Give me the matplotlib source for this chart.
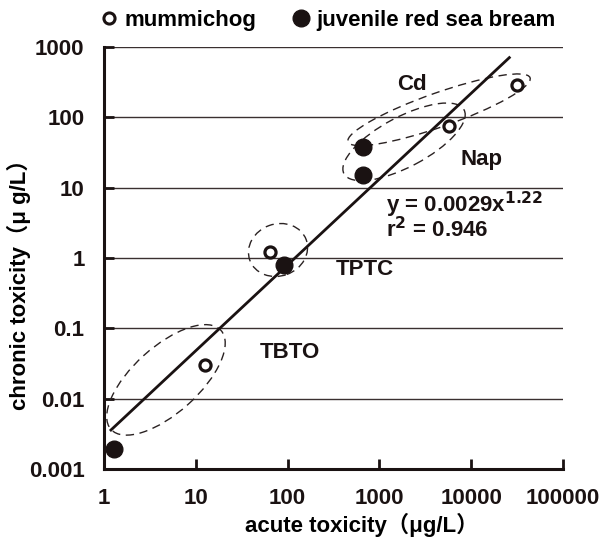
import numpy as np
import matplotlib
matplotlib.use('Agg')
import matplotlib.pyplot as plt
from matplotlib.patches import Ellipse
from matplotlib.lines import Line2D
import matplotlib.transforms as mtransforms

plt.rcParams['font.family'] = ['Liberation Sans', 'Noto Sans CJK JP', 'DejaVu Sans']

# acute / chronic toxicity (ug/L)
mummichog_acute = [12.6, 64, 5700, 31600]
mummichog_chronic = [0.030, 1.22, 76, 290]
bream_acute = [1.3, 91, 665, 665]
bream_chronic = [0.0019, 0.80, 38, 15]

# regression y = a * x^b
fit_a = 0.0029
fit_b = 1.22
fit_r2 = 0.946
fit_xrange = [1.19, 26000]

x_ticks = [1, 10, 100, 1000, 10000, 100000]
x_ticklabels = ['1', '10', '100', '1000', '10000', '100000']
y_ticks = [0.001, 0.01, 0.1, 1, 10, 100, 1000]
y_ticklabels = ['0.001', '0.01', '0.1', '1', '10', '100', '1000']

# group labels: text, x, y
group_labels = [('Cd', 2265, 290), ('Nap', 13100, 24.8),
                ('TPTC', 697, 0.68), ('TBTO', 106, 0.046)]

# dashed group outlines: center (data), semi-axes in inches, angle
group_ellipses = [(4.73, 0.0185, 0.74, 0.33, 42),
                  (78.6, 1.30, 0.30, 0.26, 20),
                  (4460, 128, 0.965, 0.17, 19.4),
                  (1854, 44.8, 0.68, 0.25, 28)]

fig = plt.figure(figsize=(6.14, 5.45), dpi=100)
ax = fig.add_axes([0.1694, 0.1394, 0.7476, 0.7744])
ax.set_xscale('log')
ax.set_yscale('log')
ax.set_xlim(1, 100000)
ax.set_ylim(0.001, 1000)

for yv in y_ticks:
    ax.axhline(yv, color='#3a3030', lw=1.0, zorder=1)

xf = np.logspace(np.log10(fit_xrange[0]), np.log10(fit_xrange[1]), 50)
ax.plot(xf, fit_a * xf ** fit_b, color='#1a1212', lw=2.0, zorder=3)

for cx, cy, a, b, ang in group_ellipses:
    trans = fig.dpi_scale_trans + mtransforms.ScaledTranslation(cx, cy, ax.transData)
    e = Ellipse((0, 0), 2 * a, 2 * b, angle=ang, fill=False, ec='#2a2222',
                lw=1.0, ls=(0, (6, 4)), transform=trans, zorder=2)
    ax.add_patch(e)

ax.plot(mummichog_acute, mummichog_chronic, 'o', ms=8, mfc='white',
        mec='#1a1212', mew=2.3, zorder=4, clip_on=False)
ax.plot(bream_acute, bream_chronic, 'o', ms=12, mfc='#1a1212',
        mec='#1a1212', zorder=4, clip_on=False)

tfont = dict(fontsize=16, fontweight='bold', color='#1a1212')
for txt, tx, ty in group_labels:
    ax.text(tx, ty, txt, ha='center', va='center', **tfont)
ax.text(1180, 5.7, 'y = %.4fx$^{\\mathbf{%.2f}}$' % (fit_a, fit_b), ha='left', va='center', **tfont)
ax.text(1180, 2.5, 'r$^{\\mathbf{2}}$ = %.3f' % fit_r2, ha='left', va='center', **tfont)

ax.set_xticks(x_ticks)
ax.set_xticklabels(x_ticklabels)
ax.set_yticks(y_ticks)
ax.set_yticklabels(y_ticklabels)
ax.minorticks_off()
ax.tick_params(direction='in', length=7, width=2, colors='#1a1212',
               labelsize=16, pad=14)
for lab in ax.get_xticklabels() + ax.get_yticklabels():
    lab.set_fontweight('bold')

for s in ['top', 'right']:
    ax.spines[s].set_visible(False)
for s in ['left', 'bottom']:
    ax.spines[s].set_linewidth(2.2)
    ax.spines[s].set_color('#1a1212')

ax.set_xlabel('acute toxicity（μg/L）', fontsize=16, fontweight='bold',
              family=['Liberation Sans', 'Noto Sans CJK JP'])
ax.set_ylabel('chronic toxicity（μ g/L）', fontsize=16, fontweight='bold',
              family=['Liberation Sans', 'Noto Sans CJK JP'])
ax.xaxis.set_label_coords(0.562, -0.105)
ax.yaxis.set_label_coords(-0.158, 0.45)

handles = [Line2D([], [], ls='none', marker='o', ms=8, mfc='white', mec='#1a1212', mew=2.2),
           Line2D([], [], ls='none', marker='o', ms=12, mfc='#1a1212', mec='#1a1212')]
fig.legend(handles, ['mummichog', 'juvenile red sea bream'], loc='center left',
           bbox_to_anchor=(0.148, 0.962), ncol=2, frameon=False,
           prop=dict(size=16, weight='bold'), handletextpad=0.3,
           columnspacing=1.6, handlelength=0.8, borderaxespad=0)

fig.savefig('out.png', dpi=100)
